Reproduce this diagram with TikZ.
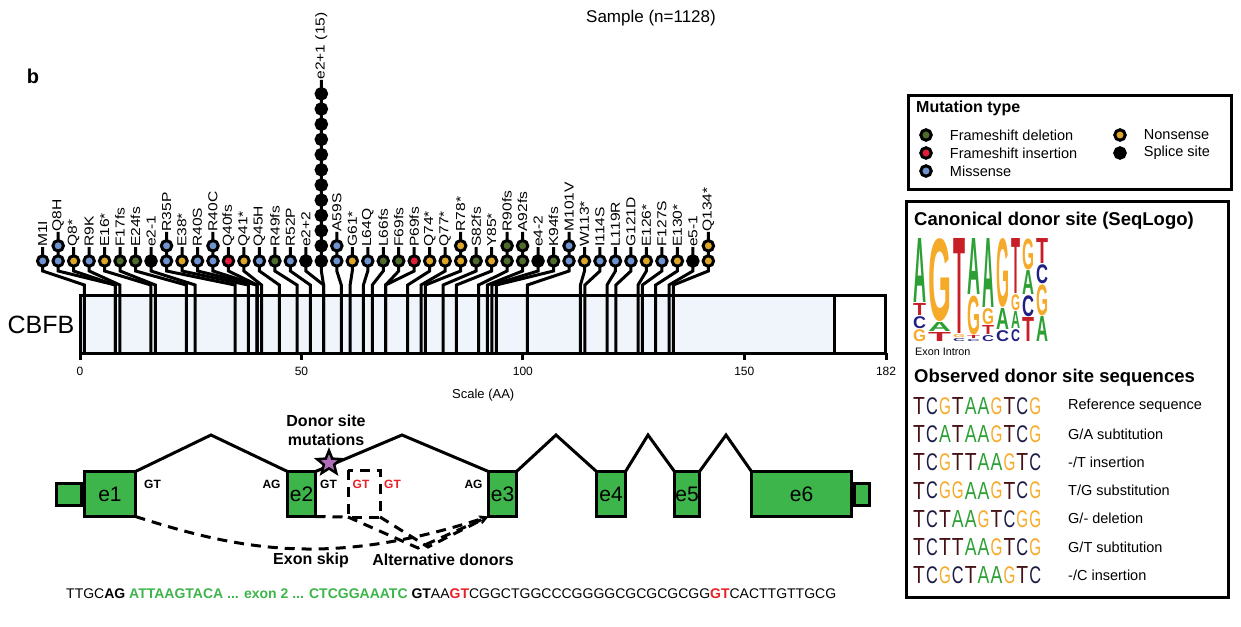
\documentclass[tikz,border=0pt]{standalone}
\usepackage{fontspec}
\setmainfont{Liberation Sans}
\usepackage{graphicx}
\usetikzlibrary{positioning, shapes.geometric, arrows.meta}

\definecolor{colfd}{RGB}{80,108,45}
\definecolor{colfi}{RGB}{228,30,58}
\definecolor{colms}{RGB}{110,147,207}
\definecolor{colns}{RGB}{222,166,38}
\definecolor{colsp}{RGB}{0,0,0}
\definecolor{barblue}{RGB}{240,245,252}
\definecolor{exongreen}{RGB}{61,181,74}
\definecolor{starpurple}{RGB}{178,108,188}
\definecolor{gtred}{RGB}{232,32,40}
\definecolor{colA}{RGB}{44,160,52}
\definecolor{colC}{RGB}{32,32,132}
\definecolor{colG}{RGB}{246,170,42}
\definecolor{colT}{RGB}{200,30,40}
\definecolor{sA}{RGB}{44,160,52}
\definecolor{sC}{RGB}{28,28,70}
\definecolor{sG}{RGB}{246,170,42}
\definecolor{sT}{RGB}{70,18,22}

\tikzset{
  lolli/.style={circle, draw=black, line width=3pt, minimum size=10.5pt, inner sep=0pt},
  stem/.style={line width=3pt},
  mlabel/.style={rotate=90, anchor=west, inner sep=0pt, font=\fontsize{13}{13}\selectfont},
  exon/.style={draw, line width=3pt, fill=exongreen, inner sep=0pt, outer sep=0pt,
    minimum height=45pt, font=\fontsize{21}{21}\selectfont},
  utr/.style={draw, line width=3pt, fill=exongreen, inner sep=0pt, outer sep=0pt, minimum height=22pt},
  intron/.style={line width=3pt},
  splice/.style={font=\fontsize{12}{12}\selectfont\bfseries, inner sep=0pt},
  dashline/.style={line width=3pt, dash pattern=on 10pt off 7pt},
  arr/.style={-{Stealth[length=9pt, width=8pt]}},
  lbl/.style={font=\fontsize{16}{19}\selectfont\bfseries, inner sep=0pt},
  legtext/.style={font=\fontsize{14.5}{14.5}\selectfont, inner sep=0pt, anchor=west},
  boxtitle/.style={font=\fontsize{18.5}{18.5}\selectfont\bfseries, inner sep=0pt, anchor=west},
  frame/.style={line width=3pt}
}

\begin{document}
\begin{tikzpicture}[x=1pt, y=-1pt]
    \useasboundingbox (0,0) rectangle (1241,626);

    \node[font=\fontsize{17}{17}\selectfont] (title) at (651,18) {Sample (n=1128)};
    \node[font=\fontsize{20}{20}\selectfont\bfseries] (panel) at (33,76) {b};

    % protein bar
    \fill[barblue] (80,295) rectangle (834,353);
    \draw[frame] (80,295) rectangle (885,353);
    \draw[stem] (834,295) -- (834,353);
    \node[font=\fontsize{25}{25}\selectfont] (gene) at (41,325) {CBFB};
    \foreach \t in {0,50,100,150,182} {
        \draw[stem] ({80+4.4286*\t},353) -- ++(0,7);
        \node[font=\fontsize{12}{12}\selectfont] at ({80+4.4286*\t},371) {\t};
    }
    \node[font=\fontsize{13}{13}\selectfont, anchor=west, inner sep=0pt] (scale) at (452,395) {Scale (AA)};

    % lollipops
    \foreach \lab/\aa/\ty/\n [count=\i from 0] in {
        M1I/1/ms/1, Q8H/8/ms/2, Q8*/8/ns/1, R9K/9/ms/1, E16*/16/ns/1, F17fs/17/fd/1,
        E24fs/24/fd/1, e2-1/26/sp/1, R35P/35/ms/2, E38*/38/ns/1, R40S/40/ms/1, R40C/40/ms/2,
        Q40fs/40/fi/1, Q41*/41/ns/1, Q45H/45/ms/1, R49fs/49/fd/1, R52P/52/ms/1, e2+2/55/sp/1,
        e2+1 (15)/55/sp/12, A59S/59/ms/2, G61*/61/ns/1, L64Q/64/ms/1, L66fs/66/fd/1, F69fs/69/fd/1,
        P69fs/69/fi/1, Q74*/74/ns/1, Q77*/77/ns/1, R78*/78/ns/2, S82fs/82/fd/1, Y85*/85/ns/1,
        R90fs/90/fd/2, A92fs/92/fd/2, e4-2/93/sp/1, K94fs/94/fd/1, M101V/101/ms/2, W113*/113/ns/1,
        I114S/114/ms/1, L119R/119/ms/1, G121D/121/ms/1, E126*/126/ns/1, F127S/127/ms/1,
        E130*/130/ns/1, e5-1/133/sp/1, Q134*/134/ns/2} {
        \pgfmathsetmacro{\xc}{42.7+15.48*\i}
        \pgfmathsetmacro{\xa}{80+4.4286*\aa}
        \pgfmathsetmacro{\yt}{261-15.2*(\n-1)}
        \coordinate (s\i) at (\xa,353);
        \coordinate (t\i) at (\xc,\yt-14);
        \draw[stem] (s\i) -- (\xa,285) -- (\xc,271) -- (t\i);
        \foreach \k in {1,...,\n}
            \node[lolli, fill=col\ty] at (\xc,{261-15.2*(\k-1)}) {};
        \node[mlabel] at (t\i) {\scalebox{1.2}[1]{\lab}};
    }

    % legend
    \draw[frame] (908,95) rectangle (1231,189);
    \node[font=\fontsize{16}{16}\selectfont\bfseries, anchor=west, inner sep=0pt] (legtitle) at (916,108) {Mutation type};
    \foreach \ty/\txt/\x/\y in {fd/Frameshift deletion/926/135, fi/Frameshift insertion/926/153,
        ms/Missense/926/171, ns/Nonsense/1120/135, sp/Splice site/1120/153} {
        \node[lolli, fill=col\ty] (k\ty) at (\x,\y) {};
        \node[legtext, right=17pt of k\ty] {\txt};
    }

    % donor site box
    \draw[frame] (906,201) rectangle (1228,597);
    \node[boxtitle] (logotitle) at (914,221) {Canonical donor site (SeqLogo)};
    \foreach \l/\x/\w/\b/\h in {
        G/913/13/342/12, C/913/13/329/12, T/913/13/316/12, A/913/13/303/64,
        T/928/23/342/9, A/928/23/332/9, G/928/23/322/83,
        C/953/12/342/3, G/953/12/338/3, T/953/12/334/95,
        C/967/13/342/2, T/967/13/339/3, G/967/13/335/39, A/967/13/295/56,
        C/982/12/342/6, T/982/12/335/9, G/982/12/325/16, A/982/12/308/69,
        C/996/13/342/11, A/996/13/330/21, G/996/13/308/69,
        C/1011/9/342/12, A/1011/9/329/17, G/1011/9/311/16, T/1011/9/294/55,
        T/1022/12/342/24, C/1022/12/317/21, A/1022/12/295/24, G/1022/12/270/31,
        A/1036/12/342/25, G/1036/12/316/31, C/1036/12/284/19, T/1036/12/264/25}
        \node[anchor=south west, inner sep=0pt] at (\x,\b) {\resizebox*{\w pt}{\h pt}{\textcolor{col\l}{\textbf{\l}}}};
    \node[font=\fontsize{10.8}{10.8}\selectfont, anchor=west, inner sep=0pt] (exint) at (915,352) {Exon Intron};
    \node[boxtitle] (obstitle) at (914,378) {Observed donor site sequences};
    \foreach \s/\txt [count=\r from 0] in {
        {T,C,G,T,A,A,G,T,C,G}/{Reference sequence},
        {T,C,A,T,A,A,G,T,C,G}/{G/A subtitution},
        {T,C,G,T,T,A,A,G,T,C}/{-/T insertion},
        {T,C,G,G,A,A,G,T,C,G}/{T/G substitution},
        {T,C,T,A,A,G,T,C,G,G}/{G/- deletion},
        {T,C,T,T,A,A,G,T,C,G}/{G/T subtitution},
        {T,C,G,C,T,A,A,G,T,C}/{-/C insertion}} {
        \pgfmathsetmacro{\yr}{406+28.2*\r}
        \foreach \c [count=\k from 0] in \s
            \node[anchor=west, inner sep=0pt] at ({913+12.9*\k},\yr) {\resizebox*{11.8pt}{17pt}{\textcolor{s\c}{\c}}};
        \node[legtext] at (1068,\yr) {\txt};
    }

    % gene structure
    \node[utr, minimum width=25pt] (u1) at (69,494.5) {};
    \node[utr, minimum width=15pt] (u6) at (862,494) {};
    \node[exon, minimum width=51pt] (e1) at (110,494) {e1};
    \node[exon, minimum width=28pt] (e2) at (301.5,494) {e2};
    \node[exon, minimum width=28pt] (e3) at (502.5,494) {e3};
    \node[exon, minimum width=29pt] (e4) at (611,494) {e4};
    \node[exon, minimum width=25pt] (e5) at (687,494) {e5};
    \node[exon, minimum width=100pt] (e6) at (801.5,494) {e6};

    \coordinate (p1) at (211,435);
    \coordinate (p2) at (402,435);
    \coordinate (p3) at (556,435);
    \coordinate (p4) at (648,435);
    \coordinate (p5) at (726,435);
    \draw[intron] (e1.north east) -- (p1) -- (e2.north west);
    \draw[intron] (e2.north east) -- (p2) -- (e3.north west);
    \draw[intron] (e3.north east) -- (p3) -- (e4.north west);
    \draw[intron] (e4.north east) -- (p4) -- (e5.north west);
    \draw[intron] (e5.north east) -- (p5) -- (e6.north west);

    \node[splice] at (152.5,484) {GT};
    \node[splice] at (271.5,484) {AG};
    \node[splice] at (328.5,484) {GT};
    \node[splice, text=gtred] at (361,484) {GT};
    \node[splice, text=gtred] at (392.5,484) {GT};
    \node[splice] at (473.5,484) {AG};

    % alternative donors and exon skip
    \coordinate (d1) at (348,470);
    \coordinate (d2) at (380,517);
    \coordinate (a1) at (348,517);
    \coordinate (v1) at (418,548);
    \coordinate (v2) at (428,547);
    \draw[dashline] (d1) rectangle (d2);
    \draw[dashline] (e2.south east) -- (a1);
    \draw[dashline, arr] (e1.south east) .. controls (240,550) and (330,568) .. (e3.south west);
    \draw[dashline, arr] (a1) -- (v1) -- (e3.south west);
    \draw[dashline, arr] (d2) -- (v2) -- (e3.south west);

    \node[star, star points=5, star point ratio=2.3, draw, line width=2.5pt, fill=starpurple,
        minimum size=25pt, inner sep=0pt] (mut) at (329,463) {};
    \node[lbl, align=center] (donor) at (326,430) {Donor site\\mutations};
    \node[lbl] (skip) at (311,560) {Exon skip};
    \node[lbl] (alt) at (443,560) {Alternative donors};

    % sequence
    \node[anchor=west, inner sep=0pt, font=\fontsize{14}{14}\selectfont] (seq) at (66,594)
        {TTGC\textbf{AG} \textcolor{exongreen}{\textbf{ATTAAGTACA ... exon 2 ... CTCGGAAATC}} \textbf{GT}AA\textcolor{gtred}{\textbf{GT}}CGGCTGGCCCGGGGCGCGCGCGG\textcolor{gtred}{\textbf{GT}}CACTTGTTGCG};
\end{tikzpicture}
\end{document}
